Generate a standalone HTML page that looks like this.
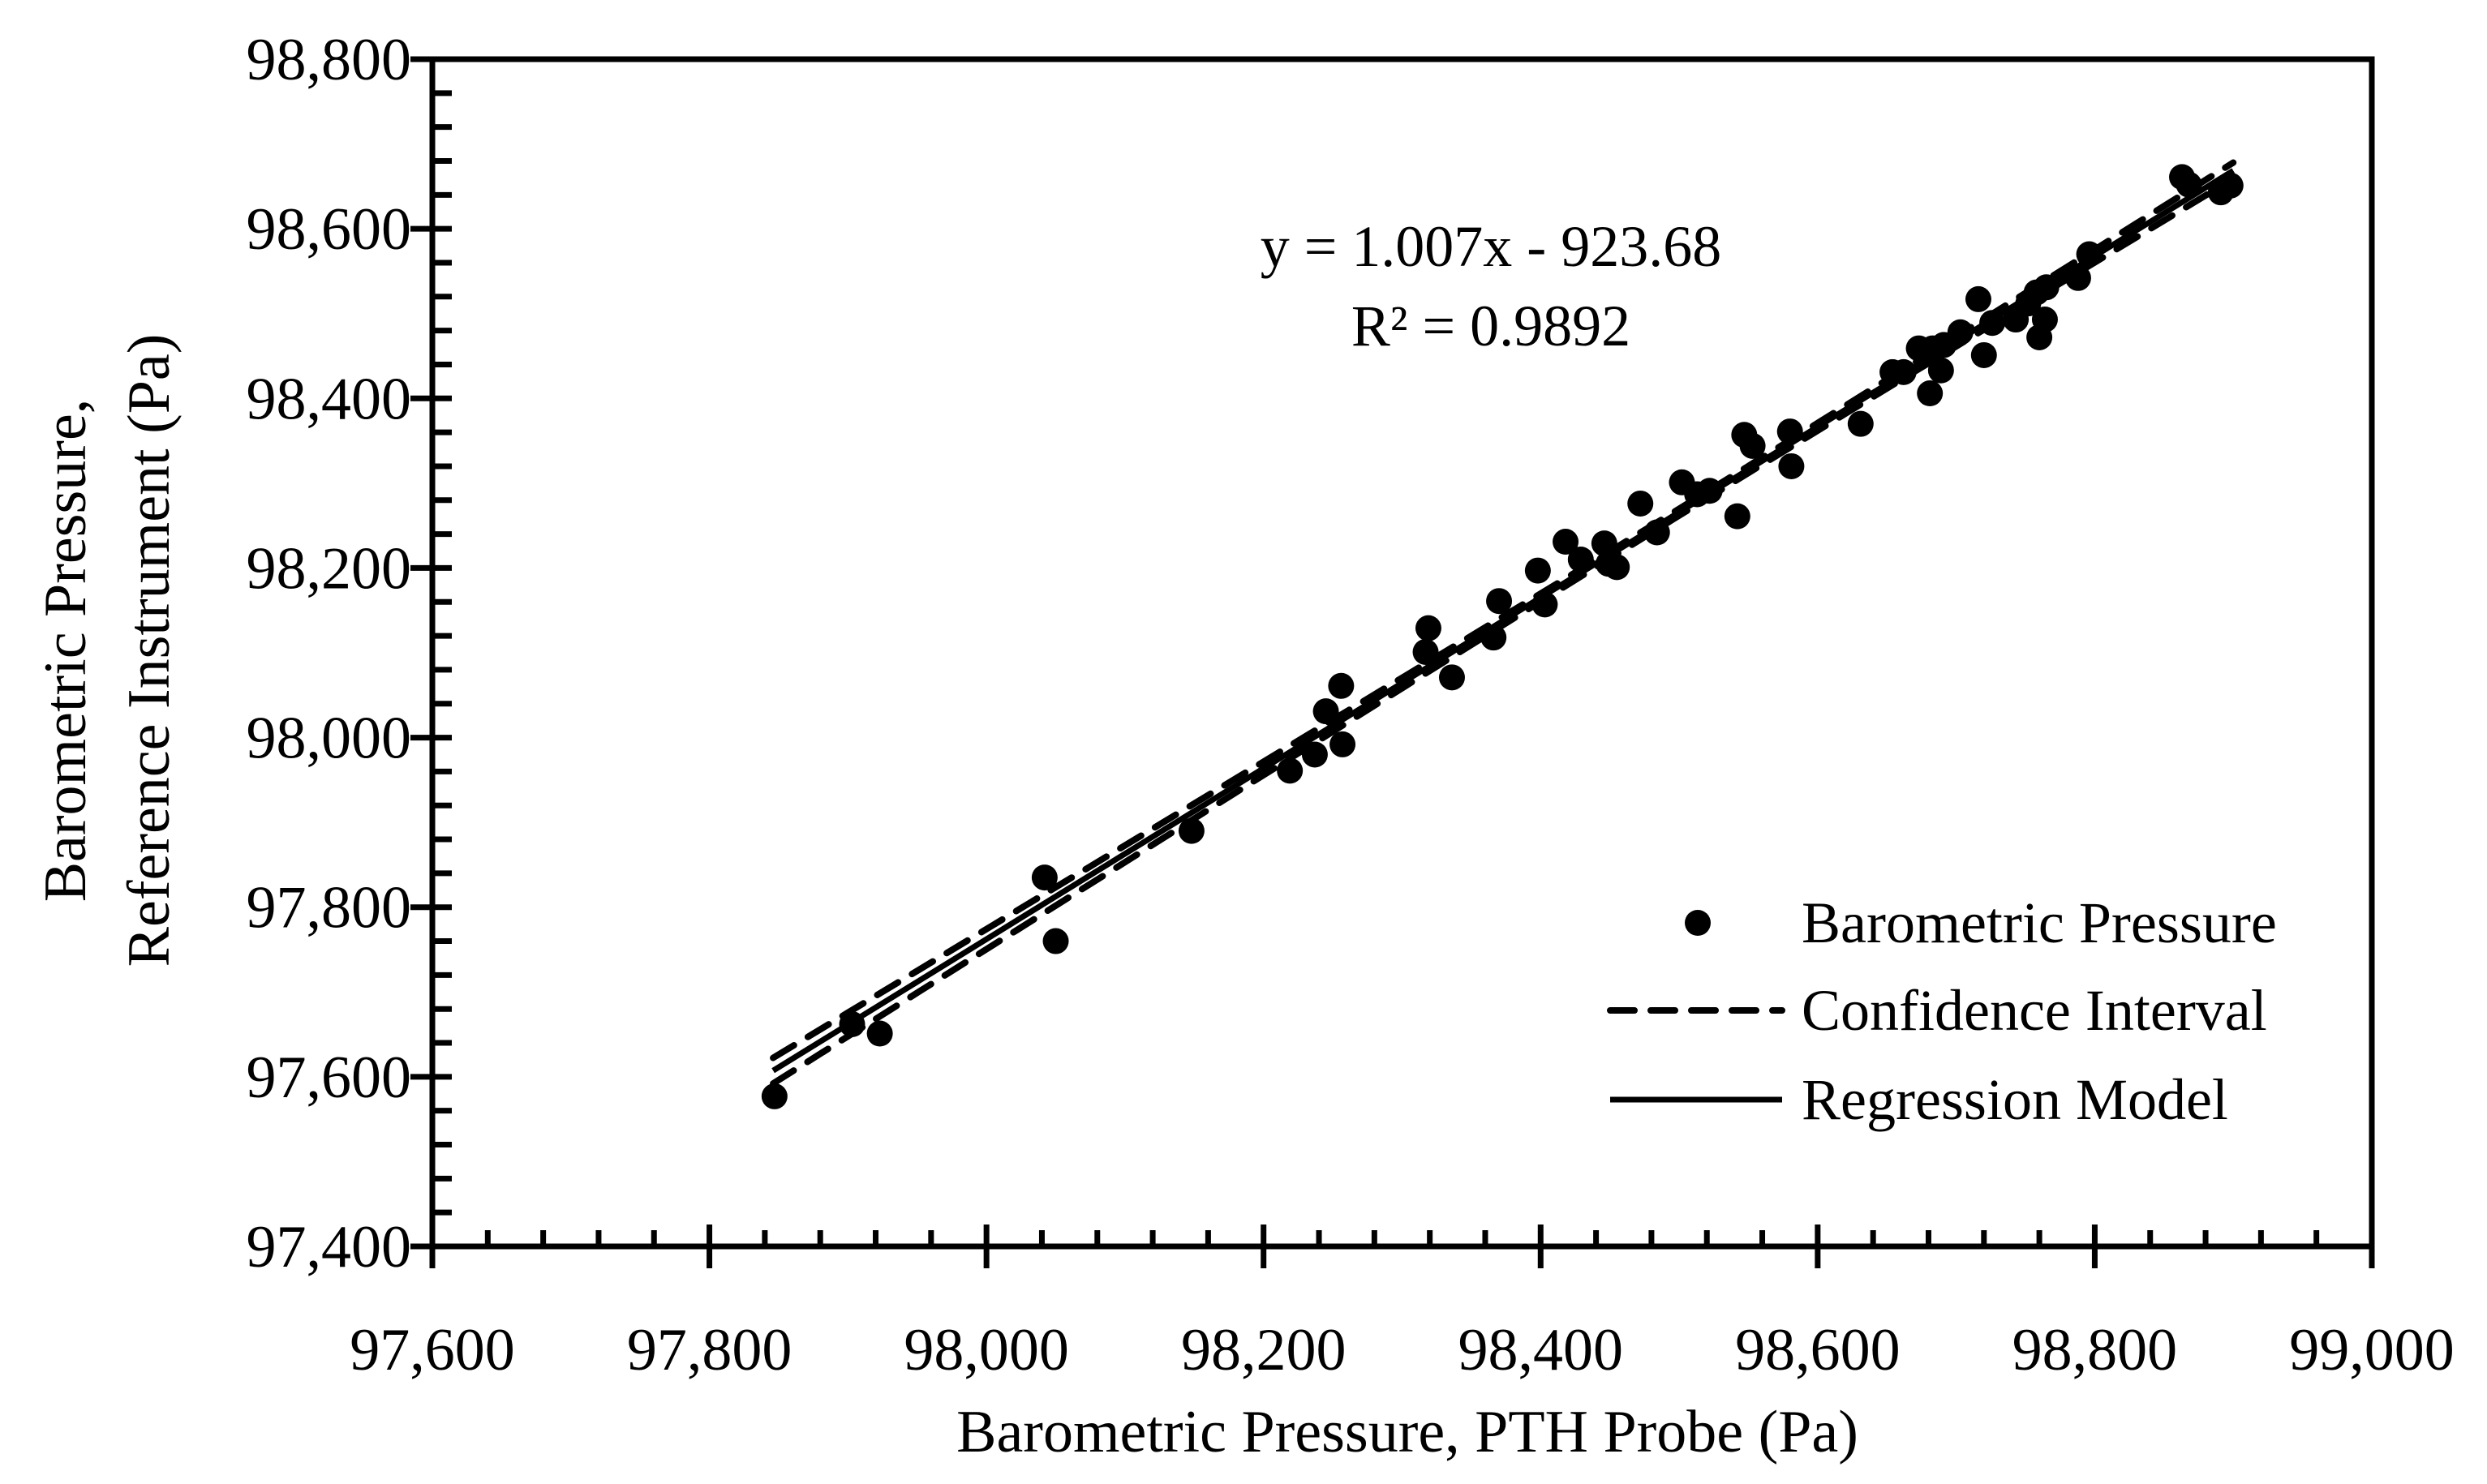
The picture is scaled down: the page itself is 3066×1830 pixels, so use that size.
<!DOCTYPE html>
<html><head><meta charset="utf-8"><style>
html,body{margin:0;padding:0;background:#fff;}
svg{display:block;font-family:"Liberation Serif",serif;}
</style></head><body>
<svg id="chart" width="3066" height="1830" viewBox="0 0 3066 1830" xmlns="http://www.w3.org/2000/svg">
<g id="axes"></g>
<g id="ci"></g>
<g id="reg"></g>
<g id="pts"></g>
<text x="1735" y="1790" font-size="74" text-anchor="middle">Barometric Pressure, PTH Probe (Pa)</text>
<g transform="translate(0,0)">
<text x="105" y="802" font-size="74" text-anchor="middle" transform="rotate(-90 105 802)">Barometric Pressure,</text>
<text x="208" y="802" font-size="74" text-anchor="middle" transform="rotate(-90 208 802)">Reference Instrument (Pa)</text>
</g>
<text x="1838" y="328" font-size="72" text-anchor="middle">y = 1.007x - 923.68</text>
<text x="1838" y="426" font-size="72" text-anchor="middle">R² = 0.9892</text>
<g>
<g>
<circle cx="2093" cy="1138" r="16" fill="#000"/>
<text x="2221" y="1162" font-size="72">Barometric Pressure</text>
</g>
<g>
<line x1="1985" y1="1246" x2="2197" y2="1246" stroke="#000" stroke-width="8" stroke-dasharray="30 20" stroke-linecap="round"/>
<text x="2221" y="1270" font-size="72">Confidence Interval</text>
</g>
<g>
<line x1="1985" y1="1356" x2="2197" y2="1356" stroke="#000" stroke-width="7"/>
<text x="2221" y="1380" font-size="72">Regression Model</text>
</g>
</g>
</svg>
<script>
const xs = [97847,97903,97923,98042,98050,98148,98219,98237,98245,98256,98257,98317,98319,98336,98366,98370,98398,98403,98418,98429,98446,98449,98455,98472,98484,98502,98513,98522,98542,98547,98553,98580,98581,98631,98654,98662,98673,98681,98683,98689,98691,98703,98716,98720,98726,98743,98752,98758,98760,98764,98765,98788,98796,98863,98868,98891,98898];
const ys = [97577,97662,97651,97835,97760,97890,97961,97980,98031,98061,97992,98101,98129,98071,98118,98161,98197,98157,98231,98210,98229,98205,98201,98276,98242,98301,98287,98291,98261,98357,98344,98361,98320,98370,98431,98431,98459,98406,98459,98433,98463,98478,98517,98451,98489,98493,98512,98525,98472,98493,98531,98542,98570,98661,98652,98643,98651];
const xTicks = [97600,97800,98000,98200,98400,98600,98800,99000];
const yTicks = [97400,97600,97800,98000,98200,98400,98600,98800];
const slope = [1.007];
const intercept = [-923.68];
const regRange = [97846,98900];
const ciParams = [4,0.022];

const NS="http://www.w3.org/2000/svg";
const L=533,R=2924,T=73,B=1537;
const X0=97600,X1=99000,Y0=97400,Y1=98800;
const sx=v=>L+(v-X0)/(X1-X0)*(R-L);
const sy=v=>B-(v-Y0)/(Y1-Y0)*(B-T);
function mk(tag,attrs,parent){const e=document.createElementNS(NS,tag);for(const k in attrs)e.setAttribute(k,attrs[k]);parent.appendChild(e);return e;}
const axes=document.getElementById('axes');
let f=mk('rect',{x:L,y:T,width:R-L,height:B-T,fill:'none',stroke:'#000','stroke-width':7},axes);


for(let v=X0;v<=X1;v+=40){
  const x=sx(v),major=(v-X0)%200===0;
  const t=mk('line',{x1:x,x2:x,y1:major?B-27:B-20,y2:major?B+27:B,stroke:'#000','stroke-width':7},axes);
  
  
}
for(let v=Y0;v<=Y1;v+=40){
  const y=sy(v),major=(v-Y0)%200===0;
  const t=mk('line',{y1:y,y2:y,x1:major?L-27:L,x2:L+24,stroke:'#000','stroke-width':7},axes);
  
  
}
xTicks.forEach(v=>{
  const t=mk('text',{x:sx(v),y:1689,'font-size':74,'text-anchor':'middle'},axes);
  t.textContent=v.toLocaleString('en-US');
  
  
});
yTicks.forEach(v=>{
  const t=mk('text',{x:507,y:sy(v)+25,'font-size':74,'text-anchor':'end'},axes);
  t.textContent=v.toLocaleString('en-US');
  
  
});
const fit=x=>slope[0]*x+intercept[0];
const xm=xs.reduce((a,b)=>a+b,0)/xs.length;
const hw=x=>Math.sqrt(ciParams[0]**2+(ciParams[1]*(x-xm))**2);
const reg=document.getElementById('reg');
const rl=mk('line',{x1:sx(regRange[0]),y1:sy(fit(regRange[0])),x2:sx(regRange[1]),y2:sy(fit(regRange[1])),stroke:'#000','stroke-width':7},reg);


const ci=document.getElementById('ci');
[1,-1].forEach(s=>{
  let d='';
  for(let i=0;i<=60;i++){const x=regRange[0]+(regRange[1]-regRange[0])*i/60;d+=(i?'L':'M')+sx(x).toFixed(1)+' '+sy(fit(x)+s*hw(x)).toFixed(1);}
  const p=mk('path',{d:d,fill:'none',stroke:'#000','stroke-width':8,'stroke-dasharray':'30 20','stroke-linecap':'round'},ci);
  
  
});
const pts=document.getElementById('pts');
xs.forEach((x,i)=>{
  const c=mk('circle',{cx:sx(x),cy:sy(ys[i]),r:16,fill:'#000'},pts);
  
  
});
</script>
</body></html>
